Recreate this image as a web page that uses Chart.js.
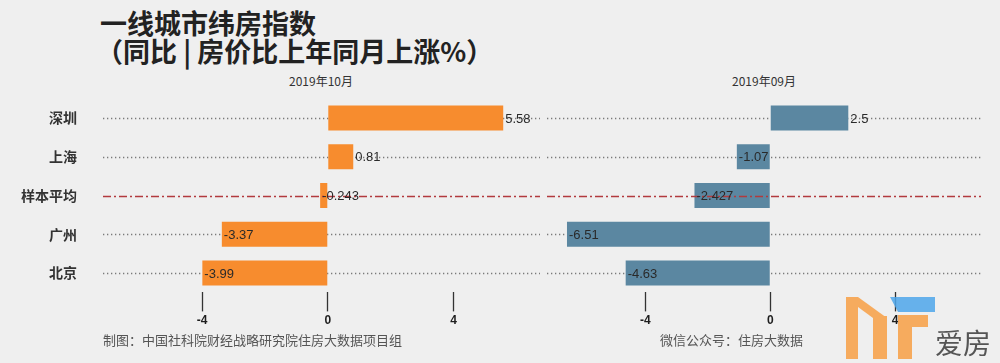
<!DOCTYPE html>
<html>
<head>
<meta charset="utf-8">
<script src="https://cdn.jsdelivr.net/npm/chart.js@4/dist/chart.umd.min.js"></script>
<style>
  body { margin: 0; background: #efefef; width: 1000px; height: 363px; overflow: hidden; position: relative;
         font-family: "Noto Sans CJK SC", sans-serif; }
  canvas { position: absolute; top: 0; }
  .title { position: absolute; left: 100px; color: #222; font-size: 27px; font-weight: bold; line-height: 28px; white-space: nowrap; }
  .sub { position: absolute; top: 72px; font-size: 12px; color: #333; transform: translateX(-50%); white-space: nowrap; }
  .foot { position: absolute; top: 330px; font-size: 13px; color: #555; white-space: nowrap; }
  #logo { position: absolute; left: 840px; top: 292px; }
</style>
</head>
<body>
<div class="title" style="top:9px">一线城市纬房指数</div>
<div class="title" style="top:37px;left:96px">（同比 | 房价比上年同月上涨%）</div>
<div class="sub" id="sub0" style="left:321px"></div>
<div class="sub" id="sub1" style="left:764px"></div>
<canvas id="left" width="545" height="363" style="left:0"></canvas>
<canvas id="right" width="455" height="363" style="left:545px"></canvas>
<div class="foot" style="left:103px">制图：中国社科院财经战略研究院住房大数据项目组</div>
<div class="foot" style="left:660px">微信公众号：住房大数据</div>
<svg id="logo" width="160" height="71" viewBox="0 0 160 71">
  <g fill="#f8a24a" opacity="0.88">
    <rect x="6" y="5" width="12" height="62"/>
    <polygon points="18,5 47,26 47,36 33,26 18,15"/>
    <rect x="33" y="24" width="14" height="43"/>
    <rect x="58" y="23" width="14" height="44"/>
    <rect x="58" y="23" width="30" height="12"/>
  </g>
  <polygon points="50,5 95,5 95,20 58,20" fill="#4ea6ea" opacity="0.85"/>
  <text x="95" y="62" font-size="28" fill="#555" font-family="Noto Sans CJK SC">爱房</text>
</svg>
<script>
// 数据
const cities = ['深圳', '上海', '样本平均', '广州', '北京'];
const oct2019 = [5.58, 0.81, -0.243, -3.37, -3.99];
const sep2019 = [2.5, -1.07, -2.427, -6.51, -4.63];
const panelTitles = ['2019年10月', '2019年09月'];
const tickValues = [-4, 0, 4];
const avgName = '样本平均';

document.getElementById('sub0').textContent = panelTitles[0];
document.getElementById('sub1').textContent = panelTitles[1];

// 行线 + 数值标签
const rowLines = {
  id: 'rowLines',
  beforeDatasetsDraw(chart) {
    const ctx = chart.ctx, area = chart.chartArea, y = chart.scales.y;
    ctx.save();
    ctx.strokeStyle = '#7a7a7a';
    ctx.lineWidth = 1.3;
    ctx.setLineDash([1.3, 2.7]);
    cities.forEach(function(c, i) {
      if (c === avgName) return;
      const py = Math.round(y.getPixelForValue(i)) + 0.5;
      ctx.beginPath();
      ctx.moveTo(area.left, py);
      ctx.lineTo(area.right, py);
      ctx.stroke();
    });
    ctx.restore();
  },
  afterDatasetsDraw(chart) {
    const ctx = chart.ctx, area = chart.chartArea, x = chart.scales.x, y = chart.scales.y;
    const vals = chart.data.datasets[0].data;
    ctx.save();
    // 样本平均：点划线
    const ai = cities.indexOf(avgName);
    const ay = Math.round(y.getPixelForValue(ai)) + 0.5;
    ctx.strokeStyle = '#b23a3e';
    ctx.lineWidth = 1.6;
    ctx.setLineDash([8, 3, 2, 3]);
    ctx.beginPath();
    ctx.moveTo(area.left, ay);
    ctx.lineTo(area.right, ay);
    ctx.stroke();
    ctx.setLineDash([]);
    // 数值
    ctx.font = '13px "Liberation Sans", Arial, sans-serif';
    ctx.fillStyle = '#2a2a2a';
    ctx.textAlign = 'left';
    ctx.textBaseline = 'middle';
    vals.forEach(function(v, i) {
      ctx.fillText(String(v), x.getPixelForValue(v) + 2, y.getPixelForValue(i) + 1);
    });
    ctx.restore();
  }
};

function makePanel(id, values, color, showY, pad) {
  return new Chart(document.getElementById(id), {
    type: 'bar',
    data: {
      labels: cities,
      datasets: [{
        data: values,
        backgroundColor: color,
        borderWidth: 0,
        barPercentage: 0.645,
        categoryPercentage: 1
      }]
    },
    options: {
      indexAxis: 'y',
      responsive: false,
      animation: false,
      devicePixelRatio: 1,
      layout: { padding: { top: 98.6, left: pad.left, right: pad.right, bottom: 0 } },
      plugins: { legend: { display: false }, tooltip: { enabled: false } },
      scales: {
        x: {
          min: -7.15,
          max: 6.75,
          afterBuildTicks: function(scale) {
            scale.ticks = tickValues.map(function(v) { return { value: v }; });
          },
          afterFit: function(scale) { scale.height = 70.6; },
          border: { display: false },
          grid: { drawOnChartArea: false, drawTicks: true, tickLength: 19, tickColor: '#333', tickWidth: 1.3 },
          ticks: {
            padding: 2,
            color: '#1e1e1e',
            font: { family: '"Liberation Sans", Arial, sans-serif', size: 12, weight: 'bold' },
            callback: function(v) { return String(v); }
          }
        },
        y: {
          display: showY,
          afterFit: function(scale) { scale.width = showY ? 103 : 0; },
          border: { display: false },
          grid: { display: false, drawTicks: false },
          ticks: {
            padding: 26,
            color: '#333',
            font: { family: '"Noto Sans CJK SC", sans-serif', size: 14, weight: 'bold' }
          }
        }
      }
    },
    plugins: [rowLines]
  });
}

makePanel('left', oct2019, '#f78c2e', true, { left: 0, right: 5 });
makePanel('right', sep2019, '#5b87a1', false, { left: 2, right: 19 });
</script>
</body>
</html>
